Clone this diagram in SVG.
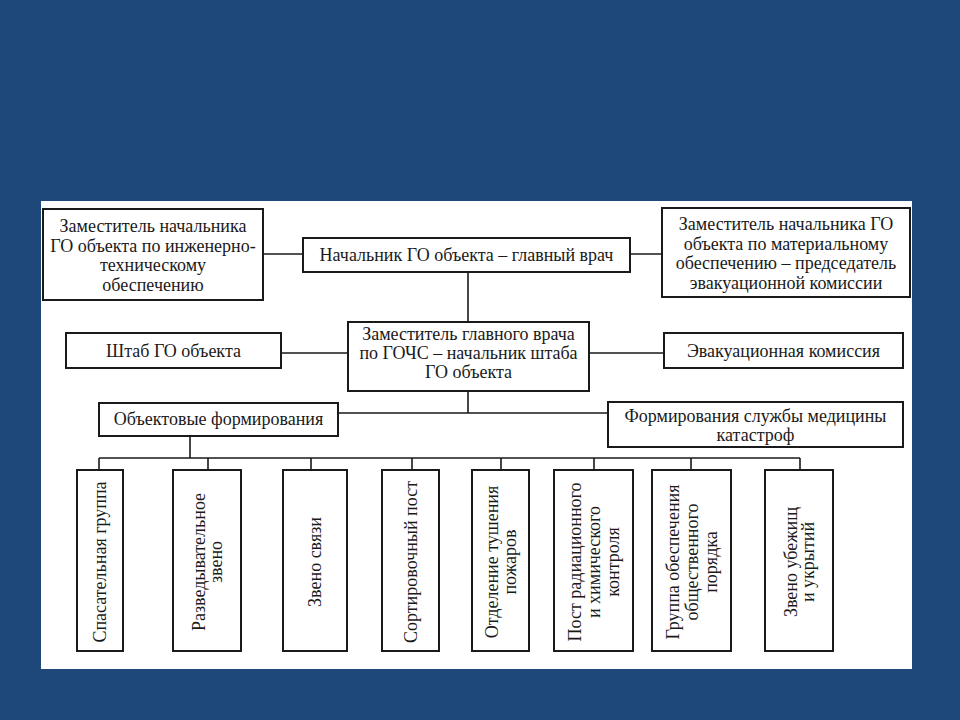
<svg xmlns="http://www.w3.org/2000/svg" width="960" height="720" viewBox="0 0 960 720">
<style>
.box{fill:#fff;stroke:#1a1a1a;stroke-width:2}
.ln{fill:none;stroke:#1a1a1a;stroke-width:1.6}
.t{font-family:'Liberation Serif','DejaVu Serif',serif;font-size:18px;fill:#1a1a1a;text-anchor:middle}
</style>
<rect x="0" y="0" width="960" height="720" fill="#1f487a"/>
<rect x="41" y="201" width="871" height="468" fill="#fff"/>
<g id="connectors">
<path class="ln" d="M263 254H303M630 254H662M468 272V322M281 353H348M589 353H664M468 391V413M338 413H608M190 436V458M99 458H800M99 458V470M208 458V470M311 458V470M412 458V470M501 458V470M594 458V470M691 458V470M800 458V470"/>
</g>
<g class="t" font-family="Liberation Serif, DejaVu Serif, serif">
<g id="n1"><rect class="box" x="43" y="209" width="220" height="91"/>
<text x="153" y="232">Заместитель начальника<tspan x="153" y="251.5">ГО объекта по инженерно-</tspan><tspan x="153" y="271">техническому</tspan><tspan x="153" y="290.5">обеспечению</tspan></text></g>
<g id="n2"><rect class="box" x="303" y="238" width="327" height="34"/>
<text x="466.5" y="261">Начальник ГО объекта – главный врач</text></g>
<g id="n3"><rect class="box" x="662" y="208" width="248" height="89"/>
<text x="786" y="230">Заместитель начальника ГО<tspan x="786" y="249.5">объекта по материальному</tspan><tspan x="786" y="269">обеспечению – председатель</tspan><tspan x="786" y="288.5">эвакуационной комиссии</tspan></text></g>
<g id="n4"><rect class="box" x="66" y="333" width="215" height="35"/>
<text x="173.5" y="357">Штаб ГО объекта</text></g>
<g id="n5"><rect class="box" x="348" y="322" width="241" height="69"/>
<text x="468.5" y="340">Заместитель главного врача<tspan x="468.5" y="359">по ГОЧС – начальник штаба</tspan><tspan x="468.5" y="378">ГО объекта</tspan></text></g>
<g id="n6"><rect class="box" x="664" y="333" width="239" height="35"/>
<text x="783.5" y="357">Эвакуационная комиссия</text></g>
<g id="n7"><rect class="box" x="99" y="403" width="239" height="33"/>
<text x="218.5" y="425">Объектовые формирования</text></g>
<g id="n8"><rect class="box" x="608" y="402" width="295" height="45"/>
<text x="755.5" y="422">Формирования службы медицины<tspan x="755.5" y="440.5">катастроф</tspan></text></g>
<g id="b1"><rect class="box" x="77" y="470" width="46" height="181"/>
<text transform="translate(100 562) rotate(-90)" y="6">Спасательная группа</text></g>
<g id="b2"><rect class="box" x="173" y="470" width="68" height="181"/>
<text transform="translate(207 562) rotate(-90)"><tspan x="0" y="-2.5">Разведывательное</tspan><tspan x="0" y="15">звено</tspan></text></g>
<g id="b3"><rect class="box" x="283" y="470" width="64" height="181"/>
<text transform="translate(315 562) rotate(-90)" y="6">Звено связи</text></g>
<g id="b4"><rect class="box" x="382" y="470" width="57" height="181"/>
<text transform="translate(410.5 562) rotate(-90)" y="6">Сортировочный пост</text></g>
<g id="b5"><rect class="box" x="472" y="470" width="57" height="181"/>
<text transform="translate(500.5 562) rotate(-90)"><tspan x="0" y="-2.5">Отделение тушения</tspan><tspan x="0" y="15">пожаров</tspan></text></g>
<g id="b6"><rect class="box" x="554" y="470" width="79" height="181"/>
<text transform="translate(594 562) rotate(-90)"><tspan x="0" y="-13">Пост радиационного</tspan><tspan x="0" y="6">и химического</tspan><tspan x="0" y="25">контроля</tspan></text></g>
<g id="b7"><rect class="box" x="652" y="470" width="79" height="181"/>
<text transform="translate(692 562) rotate(-90)"><tspan x="0" y="-13">Группа обеспечения</tspan><tspan x="0" y="6">общественного</tspan><tspan x="0" y="25">порядка</tspan></text></g>
<g id="b8"><rect class="box" x="765" y="470" width="68" height="181"/>
<text transform="translate(799 562) rotate(-90)"><tspan x="0" y="-2.5">Звено убежищ</tspan><tspan x="0" y="15">и укрытий</tspan></text></g>
</g>
</svg>
